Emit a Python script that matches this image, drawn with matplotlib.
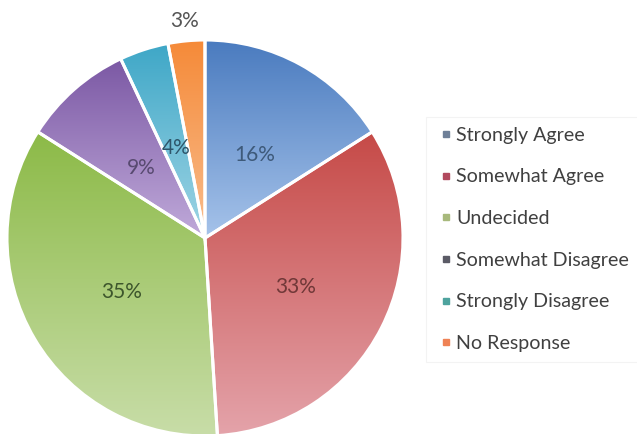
import numpy as np
import matplotlib
matplotlib.use("Agg")
import matplotlib.pyplot as plt
from matplotlib.colors import LinearSegmentedColormap
from matplotlib.lines import Line2D

# 데이터
labels = ["Strongly Agree", "Somewhat Agree", "Undecided",
          "Somewhat Disagree", "Strongly Disagree", "No Response"]
values = [16, 33, 35, 9, 4, 3]

# 위(진함) -> 아래(연함) 그라데이션 색
top_colors = ["#4a7bbf", "#c64a47", "#8cba47", "#7b58a4", "#3ea7c7", "#f58a38"]
bot_colors = ["#a6c3ea", "#e4a3aa", "#c8dda8", "#c0aada", "#a0d5e5", "#f9bd8e"]
text_colors = ["#3e5a7a", "#703838", "#3d562c", "#584a70", "#2e566a", "#555555"]
legend_colors = ["#6f8098", "#b24a5e", "#a8b97c", "#5b5b66", "#4ea39e", "#ef8255"]

fig = plt.figure(figsize=(6.37, 4.34), dpi=100)
ax = fig.add_axes([0, 0, 1, 1])

cx, cy, R = 205, 434 - 238, 198
wedges, texts, autotexts = ax.pie(
    values, center=(cx, cy), radius=R, startangle=90, counterclock=False,
    autopct="%1.0f%%", pctdistance=0.5, frame=True,
    wedgeprops=dict(facecolor="none", edgecolor="white", linewidth=2.2, zorder=3),
    textprops=dict(fontsize=15, family="Lato"))
ax.set_xlim(0, 637)
ax.set_ylim(0, 434)
ax.set_aspect("equal")
ax.axis("off")

grad = np.linspace(1, 0, 256).reshape(-1, 1)
for w, c0, c1 in zip(wedges, top_colors, bot_colors):
    ext = w.get_path().get_extents()
    cmap = LinearSegmentedColormap.from_list("g", [c1, c0])
    im = ax.imshow(grad, cmap=cmap, aspect="auto", zorder=2,
                   extent=[ext.x0, ext.x1, ext.y0, ext.y1], origin="upper")
    im.set_clip_path(w)

for t, col in zip(autotexts, text_colors):
    t.set_color(col)
    t.set_zorder(5)
    x, y = t.get_position()
    t.set_position((x + 2, y - 4))

# 마지막 조각(3%) 라벨은 바깥쪽
w = wedges[-1]
ang = np.deg2rad((w.theta1 + w.theta2) / 2)
autotexts[-1].set_position((cx + 1.1 * R * np.cos(ang), cy + 1.1 * R * np.sin(ang)))

handles = [Line2D([], [], marker="s", linestyle="", markersize=5, color=c)
           for c in legend_colors]
leg = fig.legend(handles, labels, loc="upper left",
                 bbox_to_anchor=(426 / 637, 1 - 117 / 434),
                 frameon=True, fancybox=False, edgecolor="#f0f0f0",
                 prop=dict(family="Lato", size=14.1), labelspacing=1.26,
                 handletextpad=0.05, handlelength=1.0, borderpad=0.5,
                 borderaxespad=0)
leg.get_frame().set_linewidth(0.8)
for t in leg.get_texts():
    t.set_color("#404040")

fig.savefig("out.png", dpi=100)
